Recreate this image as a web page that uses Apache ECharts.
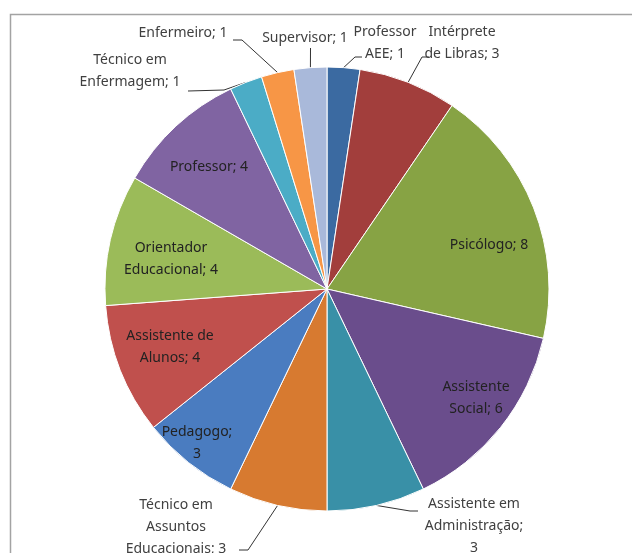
<!DOCTYPE html>
<html>
<head>
<meta charset="utf-8">
<script src="https://cdn.jsdelivr.net/npm/echarts@6/dist/echarts.min.js"></script>
<style>
  html, body { margin: 0; padding: 0; background: #ffffff; }
  #chart { width: 632px; height: 553px; }
</style>
</head>
<body>
<div id="chart"></div>
<script>
// Staff roles and head counts, clockwise from 12 o'clock
const categories = [
  'Professor AEE', 'Intérprete de Libras', 'Psicólogo', 'Assistente Social',
  'Assistente em Administração', 'Técnico em Assuntos Educacionais', 'Pedagogo',
  'Assistente de Alunos', 'Orientador Educacional', 'Professor',
  'Técnico em Enfermagem', 'Enfermeiro', 'Supervisor'
];
const values = [1, 3, 8, 6, 3, 3, 3, 4, 4, 4, 1, 1, 1];

// How each category name is wrapped in its label
const wrappedNames = [
  'Professor\nAEE', 'Intérprete\nde Libras', 'Psicólogo', 'Assistente\nSocial',
  'Assistente em\nAdministração;\n', 'Técnico em\nAssuntos\nEducacionais', 'Pedagogo;\n',
  'Assistente de\nAlunos', 'Orientador\nEducacional', 'Professor',
  'Técnico em\nEnfermagem', 'Enfermeiro', 'Supervisor'
];

const sliceColors = [
  '#3b6aa1', '#a23e3c', '#87a344', '#6a4d8c', '#3990a7', '#d77a30', '#4a7cc0',
  '#c0504d', '#9bbb59', '#8064a2', '#4bacc6', '#f79646', '#a9b9da'
];

// Labels drawn on the slice (no leader line)
const insideLabel = [false, false, true, true, false, false, true, true, true, true, false, false, false];

// Pie geometry
const PIE_CX = 327, PIE_CY = 289, PIE_R = 222;

// Label anchor points in the chart area
const labelPos = [
  [385, 43], [462, 43], [489, 245], [476, 398], [474, 526], [176, 527], [197, 443],
  [170, 347], [171, 259], [209, 167], [130, 71], [183, 33], [305, 38]
];

// Leader line routes (elbow, end) from the slice edge to each outer label
const leaderRoutes = {
  0: [[355, 57], [362, 57]],
  1: [[422, 57], [429, 57]],
  4: [[410, 511], [418, 511]],
  5: [[248, 550], [239, 550]],
  10: [[224, 90], [188, 91]],
  11: [[242, 40], [233, 40]],
  12: [[310.5, 48]]
};

function labelText(i) {
  const n = wrappedNames[i];
  if (n.endsWith('\n')) return n + values[i];
  return n + '; ' + values[i];
}

// Point on the pie rim at the middle of slice i (clockwise from 12 o'clock)
const total = values.reduce((a, b) => a + b, 0);
function rimPoint(i) {
  let before = 0;
  for (let k = 0; k < i; k++) before += values[k];
  const frac = (before + values[i] / 2) / total;
  const ang = Math.PI / 2 - frac * Math.PI * 2;
  return [PIE_CX + PIE_R * Math.cos(ang), PIE_CY - PIE_R * Math.sin(ang)];
}

const chart = echarts.init(document.getElementById('chart'), null, { renderer: 'canvas' });

const data = categories.map((name, i) => ({
  name: name,
  value: values[i],
  itemStyle: { color: sliceColors[i] },
  label: {
    color: insideLabel[i] ? '#222222' : '#404040'
  },
  labelLine: { show: !insideLabel[i] }
}));

chart.setOption({
  animation: false,
  backgroundColor: '#ffffff',
  graphic: [{
    type: 'rect',
    shape: { x: 10.5, y: 14.5, width: 700, height: 700 },
    style: { fill: null, stroke: '#a3a3a3', lineWidth: 1.5 },
    silent: true
  }],
  series: [{
    type: 'pie',
    center: [PIE_CX, PIE_CY],
    radius: PIE_R,
    startAngle: 90,
    clockwise: true,
    avoidLabelOverlap: false,
    itemStyle: { borderColor: '#ffffff', borderWidth: 1 },
    emphasis: { disabled: true },
    label: {
      show: true,
      position: 'outside',
      formatter: (p) => labelText(p.dataIndex),
      fontFamily: 'Noto Sans',
      fontSize: 14,
      lineHeight: 22,
      align: 'center'
    },
    labelLine: {
      show: true,
      length: 12,
      length2: 10,
      lineStyle: { color: '#333333', width: 1 }
    },
    labelLayout: (params) => {
      const i = params.dataIndex;
      const c = labelPos[i];
      const out = { x: c[0], y: c[1], align: 'center', verticalAlign: 'middle' };
      if (leaderRoutes[i]) {
        out.labelLinePoints = [rimPoint(i)].concat(leaderRoutes[i]);
      }
      return out;
    },
    data: data
  }]
});
</script>
</body>
</html>
